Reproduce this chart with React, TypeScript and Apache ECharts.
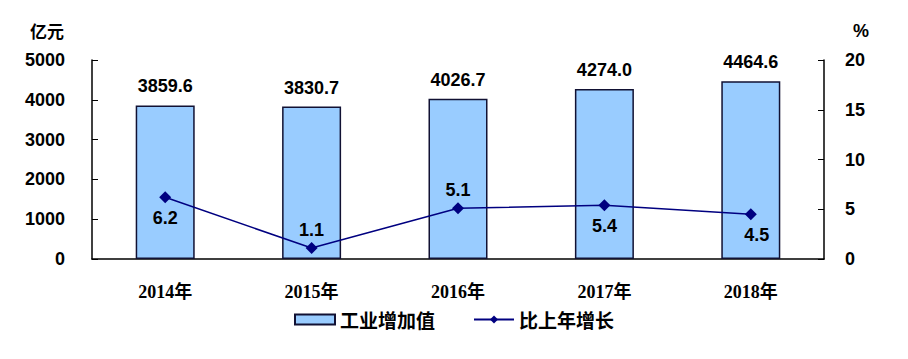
import React, { useEffect, useRef } from "react";
import * as echarts from "echarts";

const categories = ["2014年", "2015年", "2016年", "2017年", "2018年"];
const valueAdded = [3859.6, 3830.7, 4026.7, 4274.0, 4464.6];
const growth = [6.2, 1.1, 5.1, 5.4, 4.5];
const growthLabelPos = ["bottom", "top", "top", "bottom", "bottom"];
const leftTicks = { min: 0, max: 5000, interval: 1000 };
const rightTicks = { min: 0, max: 20, interval: 5 };

export default function App() {
  const ref = useRef<HTMLDivElement>(null);
  useEffect(() => {
    const chart = echarts.init(ref.current!, null, { renderer: "svg" });
    const numFont = "'Liberation Sans', Arial, sans-serif";
    const cjkFont = "'Noto Sans CJK SC', sans-serif";
    chart.setOption({
      animation: false,
      backgroundColor: "#ffffff",
      grid: { left: 84, right: 76, top: 52, bottom: 92, containLabel: false },
      legend: {
        left: "center",
        top: 297,
        itemWidth: 40,
        itemHeight: 10,
        itemGap: 38,
        textStyle: { fontFamily: cjkFont, fontSize: 19, color: "#000", fontWeight: "bold" },
        data: [
          { name: "工业增加值", icon: "rect" },
          { name: "比上年增长" },
        ],
      },
      graphic: [
        { type: "text", left: 22, top: 14, style: { text: "亿元", fontFamily: cjkFont, fontSize: 17, fontWeight: "bold", fill: "#000" } },
        { type: "text", left: 845, top: 14, style: { text: "%", fontFamily: numFont, fontSize: 18, fontWeight: "bold", fill: "#000" } },
      ],
      xAxis: {
        type: "category",
        data: categories,
        axisLine: { lineStyle: { color: "#000", width: 1.5 } },
        axisTick: { inside: true, length: 6, alignWithLabel: false, lineStyle: { color: "#000" } },
        axisLabel: {
          margin: 24,
          fontFamily: "'Liberation Serif', 'Noto Sans CJK SC', serif",
          fontSize: 18,
          fontWeight: "bold",
          color: "#000",
        },
      },
      yAxis: [
        {
          type: "value",
          ...leftTicks,
          position: "left",
          splitLine: { show: false },
          axisLine: { show: true, lineStyle: { color: "#000", width: 1.5 } },
          axisTick: { show: true, inside: true, length: 6, lineStyle: { color: "#000" } },
          axisLabel: { margin: 27, formatter: (v: number) => String(v), fontFamily: numFont, fontSize: 18, fontWeight: "bold", color: "#000" },
        },
        {
          type: "value",
          ...rightTicks,
          position: "right",
          splitLine: { show: false },
          axisLine: { show: true, lineStyle: { color: "#000", width: 1.5 } },
          axisTick: { show: true, inside: true, length: 6, lineStyle: { color: "#000" } },
          axisLabel: { margin: 21, formatter: (v: number) => String(v), fontFamily: numFont, fontSize: 18, fontWeight: "bold", color: "#000" },
        },
      ],
      series: [
        {
          name: "工业增加值",
          type: "bar",
          yAxisIndex: 0,
          barWidth: 59,
          data: valueAdded,
          itemStyle: { color: "#99CCFF", borderColor: "#111133", borderWidth: 1.5 },
          label: {
            show: true,
            position: "top",
            distance: 10,
            formatter: (p: any) => Number(p.value).toFixed(1),
            fontFamily: numFont,
            fontSize: 18,
            fontWeight: "bold",
            color: "#000",
          },
        },
        {
          name: "比上年增长",
          type: "line",
          yAxisIndex: 1,
          data: growth.map((v, i) => ({
            value: v,
            label: {
              position: growthLabelPos[i],
              distance: growthLabelPos[i] === "top" ? 3 : 6,
              offset: i === 4 ? [6, 0] : [0, 0],
            },
          })),
          symbol: "diamond",
          symbolSize: 12,
          lineStyle: { color: "#000080", width: 1.5 },
          itemStyle: { color: "#000080" },
          label: {
            show: true,
            formatter: (p: any) => Number(p.value).toFixed(1),
            fontFamily: numFont,
            fontSize: 18,
            fontWeight: "bold",
            color: "#000",
          },
        },
      ],
    });
    return () => chart.dispose();
  }, []);
  return <div ref={ref} style={{ width: 892, height: 343 }} />;
}
